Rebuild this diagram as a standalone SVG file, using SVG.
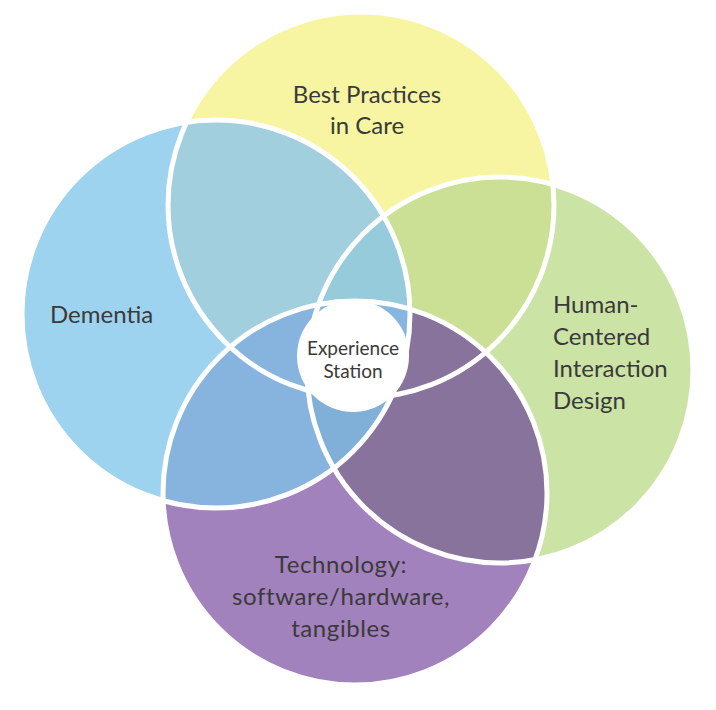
<svg xmlns="http://www.w3.org/2000/svg" width="716" height="710" viewBox="0 0 716 710">
<style>
text{font-family:Lato,"Open Sans","Liberation Sans",sans-serif;fill:#3a3a3a;font-size:24px}
.c{text-anchor:middle}
.t{letter-spacing:0.6px}
.s{font-size:19px}
.ring{fill:none;stroke:#ffffff;stroke-width:5}
</style>
<defs>
<circle id="cB" cx="216" cy="314" r="194"/>
<circle id="cY" cx="361" cy="205" r="193"/>
<circle id="cG" cx="500" cy="370" r="193"/>
<circle id="cP" cx="355" cy="493" r="192"/>
<clipPath id="kB"><use href="#cB"/></clipPath>
<clipPath id="kY"><use href="#cY"/></clipPath>
<clipPath id="kG"><use href="#cG"/></clipPath>
<clipPath id="kP"><use href="#cP"/></clipPath>
</defs>
<rect width="716" height="710" fill="#ffffff"/>
<g id="dementia">
<use href="#cB" fill="#9ed3f0"/>
<text x="50" y="323">Dementia</text>
</g>
<g id="best-practices">
<use href="#cY" fill="#f7f5a1"/>
<text class="c" x="367" y="103">Best Practices</text>
<text class="c" x="367" y="134">in Care</text>
</g>
<g id="human-centered">
<use href="#cG" fill="#cce3a6"/>
<text x="553" y="313">Human-</text>
<text x="553" y="345">Centered</text>
<text x="553" y="377">Interaction</text>
<text x="553" y="409">Design</text>
</g>
<g id="technology">
<use href="#cP" fill="#a282bc"/>
<text class="c t" x="341" y="573">Technology:</text>
<text class="c t" x="341" y="605">software/hardware,</text>
<text class="c t" x="341" y="637">tangibles</text>
</g>
<g id="overlaps">
<g clip-path="url(#kB)"><use href="#cY" fill="#a2cfde"/></g>
<g clip-path="url(#kY)"><use href="#cG" fill="#cbe094"/></g>
<g clip-path="url(#kB)"><g clip-path="url(#kY)"><use href="#cG" fill="#95cbda"/></g></g>
<g clip-path="url(#kG)"><use href="#cP" fill="#87739c"/></g>
<g clip-path="url(#kB)"><use href="#cP" fill="#86b4df"/></g>
<g clip-path="url(#kB)"><g clip-path="url(#kG)"><use href="#cP" fill="#80b0d8"/></g></g>
<g clip-path="url(#kB)"><g clip-path="url(#kG)"><g clip-path="url(#kY)"><use href="#cP" fill="#86b6e0"/></g></g></g>
</g>
<g id="outlines">
<use href="#cB" class="ring"/>
<use href="#cY" class="ring"/>
<use href="#cG" class="ring"/>
<use href="#cP" class="ring"/>
</g>
<g id="experience-station">
<circle cx="353" cy="356" r="56" fill="#ffffff"/>
<text class="c s" x="353" y="355">Experience</text>
<text class="c s" x="353" y="378">Station</text>
</g>
</svg>
